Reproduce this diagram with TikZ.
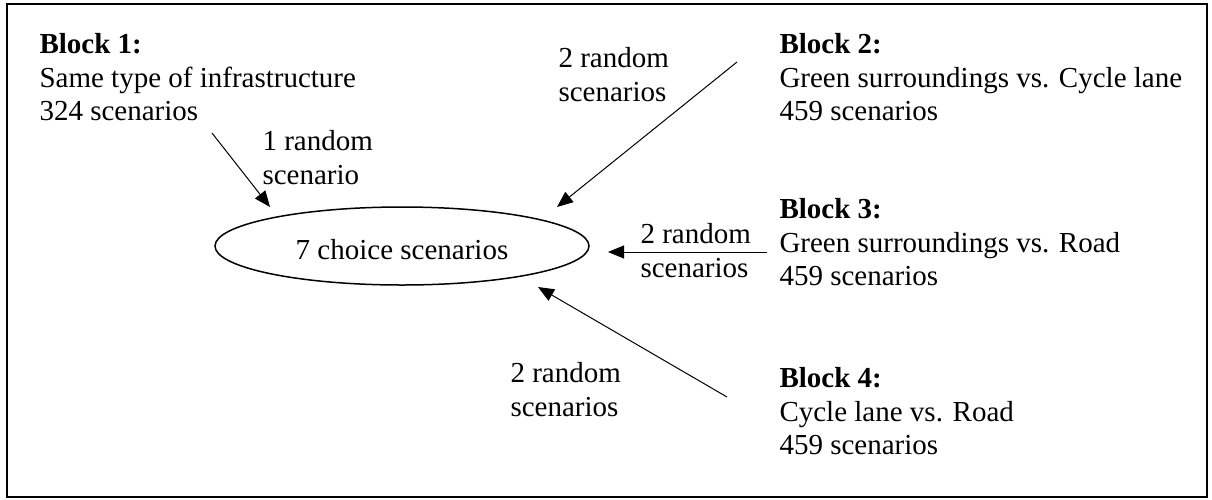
\documentclass[tikz,border=0pt]{standalone}
\usepackage{fontspec}
\setmainfont{Liberation Serif}
\usepackage{tikz}
\usetikzlibrary{arrows.meta}
\usetikzlibrary{shapes.geometric}
\newcommand{\blockfont}{\fontsize{29}{33.5}\selectfont}

\begin{document}
\begin{tikzpicture}[x=1pt, y=-1pt, line width=1pt,
	>={Triangle[length=16pt, width=13pt]},
	txt/.style={anchor=north west, inner sep=0pt, align=left, font=\blockfont}]
	\useasboundingbox (0,0) rectangle (1212,499);
	\draw[line width=2pt] (7,4) rectangle (1207,497);

	\node (choice) at (402,246) [draw, ellipse, line width=1.5pt, minimum width=374pt,
		minimum height=78pt, text height=27pt, text depth=0pt, font=\blockfont]
		{7 choice scenarios};

	\node (block1) at (39,33) [txt]
		{\textbf{Block 1:}\\ Same type of infrastructure\\ 324 scenarios};
	\node (block2) at (779,33) [txt]
		{\textbf{Block 2:}\\ Green surroundings vs. Cycle lane\\ 459 scenarios};
	\node (block3) at (779,198) [txt]
		{\textbf{Block 3:}\\ Green surroundings vs. Road\\ 459 scenarios};
	\node (block4) at (779,367) [txt]
		{\textbf{Block 4:}\\ Cycle lane vs. Road\\ 459 scenarios};

	\node (pick1) at (262,130) [txt] {1 random\\ scenario};
	\node (pick2) at (558,47) [txt] {2 random\\ scenarios};
	\node (pick3) at (640,223) [txt] {2 random\\ scenarios};
	\node (pick4) at (510,362) [txt] {2 random\\ scenarios};

	\coordinate (from1) at (212,133);
	\coordinate (to1) at (270,207);
	\coordinate (from2) at (737,62);
	\coordinate (to2) at (557,207);
	\coordinate (from3) at (767,252);
	\coordinate (to3) at (608,252);
	\coordinate (from4) at (727,397);
	\coordinate (to4) at (538,287);

	\draw[->] (from1) -- (to1);
	\draw[->] (from2) -- (to2);
	\draw[->] (from3) -- (to3);
	\draw[->] (from4) -- (to4);
\end{tikzpicture}
\end{document}
